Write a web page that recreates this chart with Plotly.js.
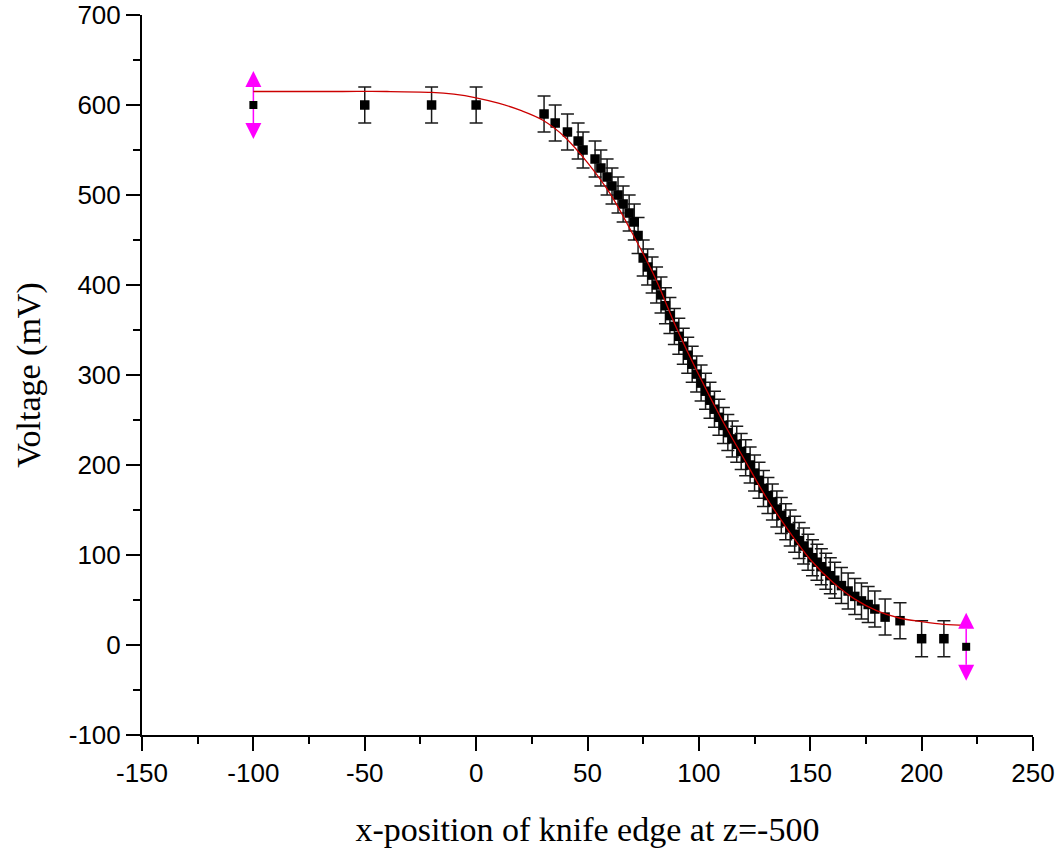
<!DOCTYPE html>
<html>
<head>
<meta charset="utf-8">
<script src="https://cdn.plot.ly/plotly-3.0.1.min.js"></script>
<style>html,body{margin:0;padding:0;background:#fff;}#chart{width:1064px;height:851px;}</style>
</head>
<body>
<div id="chart"></div>
<script>
// Measured data (x-position, voltage in mV)
const xData = [-100, -50, -20, 0, 30.5, 35.5, 41, 45.8, 48, 53.4, 56, 58.8, 61, 63.7, 66, 68.7, 71, 72.7,
  75, 77, 79, 81, 83, 85, 87, 89, 91, 93, 95, 97, 99, 101, 103, 105, 107, 109, 111, 113, 115, 117, 119,
  121, 123, 125, 127, 129, 131, 133, 135, 137, 139, 141, 143, 145, 147, 149, 151, 153, 155, 157, 159, 161,
  164, 167, 170, 173, 176, 179, 183.6, 190.3, 200, 210, 220];
const yData = [600, 600, 600, 600, 590, 580, 570, 560, 550, 540, 530, 520, 510, 500, 490, 480, 470, 455,
  430, 420, 411, 400, 389, 377, 366, 354, 343, 332, 322, 312, 301, 291, 282, 272, 262, 253, 244, 236, 229, 223, 215,
  208, 200, 191, 183, 174, 166, 159, 151, 144, 137, 130, 123, 116, 110, 103, 97, 92, 87, 82, 77, 72,
  66, 60, 54, 49, 45, 40, 31, 27, 7, 7, -2];
const yErr = [20, 20, 20, 20, 20, 20, 20, 20, 20, 20, 20, 20, 20, 20, 20, 20, 20, 20,
  20, 20, 20, 20, 20, 20, 20, 20, 20, 20, 20, 20, 20, 20, 20, 20, 20, 20, 20, 20, 20, 20, 20,
  20, 20, 20, 20, 20, 20, 20, 20, 20, 20, 20, 20, 20, 20, 20, 20, 20, 20, 20, 20, 20,
  20, 20, 20, 20, 20, 20, 20, 20, 20, 20, 20];

// Fitted curve
const fitX = [-100, -80, -60, -40, -20, -10, 0, 10, 20, 30, 40, 50, 60, 70, 80, 90, 100, 110, 120, 130, 140, 150, 160, 170, 180, 190, 200, 210, 220];
const fitY = [615, 615, 615, 615, 614, 612, 608, 602, 594, 583, 564, 536, 502, 458, 410, 352, 300, 252, 208, 165, 128, 95, 70, 51, 38, 30, 26, 23, 22];

// Axis ticks
const xTickVals = [-150, -100, -50, 0, 50, 100, 150, 200, 250];
const xTickText = ['-150', '-100', '-50', '0', '50', '100', '150', '200', '250'];
const xMinorVals = [-125, -75, -25, 25, 75, 125, 175, 225];
const yTickVals = [-100, 0, 100, 200, 300, 400, 500, 600, 700];
const yTickText = ['-100', '0', '100', '200', '300', '400', '500', '600', '700'];
const yMinorVals = [-50, 50, 150, 250, 350, 450, 550, 650];

const last = xData.length - 1;
const inner = (a) => a.slice(1, last);
const ends = (a) => [a[0], a[last]];

const tickFont = {family: 'Liberation Sans, Arial, sans-serif', size: 26, color: '#000'};
const titleFont = {family: 'Liberation Serif, Times New Roman, serif', size: 34, color: '#000'};

const traces = [
  {
    x: inner(xData), y: inner(yData), type: 'scatter', mode: 'markers',
    marker: {symbol: 'square', size: 9.5, color: '#000'},
    error_y: {type: 'data', array: inner(yErr), visible: true, color: '#1a1a1a', thickness: 1.5, width: 6.5},
    hoverinfo: 'x+y', showlegend: false
  },
  {
    x: ends(xData), y: ends(yData), type: 'scatter', mode: 'markers',
    marker: {symbol: 'square', size: 8, color: '#000'},
    error_y: {type: 'data', array: ends(yErr), visible: true, color: '#ff00ff', thickness: 1.5, width: 0},
    showlegend: false
  },
  {
    x: fitX, y: fitY, type: 'scatter', mode: 'lines',
    line: {color: '#cc0000', width: 1.3, shape: 'spline', smoothing: 1},
    showlegend: false
  }
];

const annotations = [];
[0, last].forEach(i => {
  [1, -1].forEach(s => {
    annotations.push({
      x: xData[i], y: yData[i] + s * yErr[i], xref: 'x', yref: 'y',
      showarrow: true, ax: 0, ay: 16 * s, yshift: 16 * s,
      arrowhead: 2, arrowsize: 1.6, arrowwidth: 2, arrowcolor: '#ff00ff', text: ''
    });
  });
});

const axisCommon = {
  showline: true, linewidth: 2, linecolor: '#000', mirror: false,
  ticks: 'outside', ticklen: 14, tickwidth: 2, tickcolor: '#000',
  showgrid: false, zeroline: false, tickfont: tickFont, tickmode: 'array'
};

const layout = {
  width: 1064, height: 851,
  margin: {l: 142, r: 31, t: 15, b: 116},
  paper_bgcolor: '#fff', plot_bgcolor: '#fff',
  xaxis: Object.assign({}, axisCommon, {
    range: [-150, 250], tickvals: xTickVals, ticktext: xTickText,
    minor: {tickmode: 'array', tickvals: xMinorVals, ticks: 'outside', ticklen: 7, tickwidth: 2, tickcolor: '#000', showgrid: false},
    title: {text: 'x-position of knife edge at z=-500', font: titleFont, standoff: 30}
  }),
  yaxis: Object.assign({}, axisCommon, {
    range: [-100, 700], tickvals: yTickVals, ticktext: yTickText,
    minor: {tickmode: 'array', tickvals: yMinorVals, ticks: 'outside', ticklen: 7, tickwidth: 2, tickcolor: '#000', showgrid: false},
    title: {text: 'Voltage (mV)', font: titleFont, standoff: 18}
  }),
  annotations: annotations,
  showlegend: false
};

Plotly.newPlot('chart', traces, layout, {displayModeBar: false, staticPlot: true});
</script>
</body>
</html>
